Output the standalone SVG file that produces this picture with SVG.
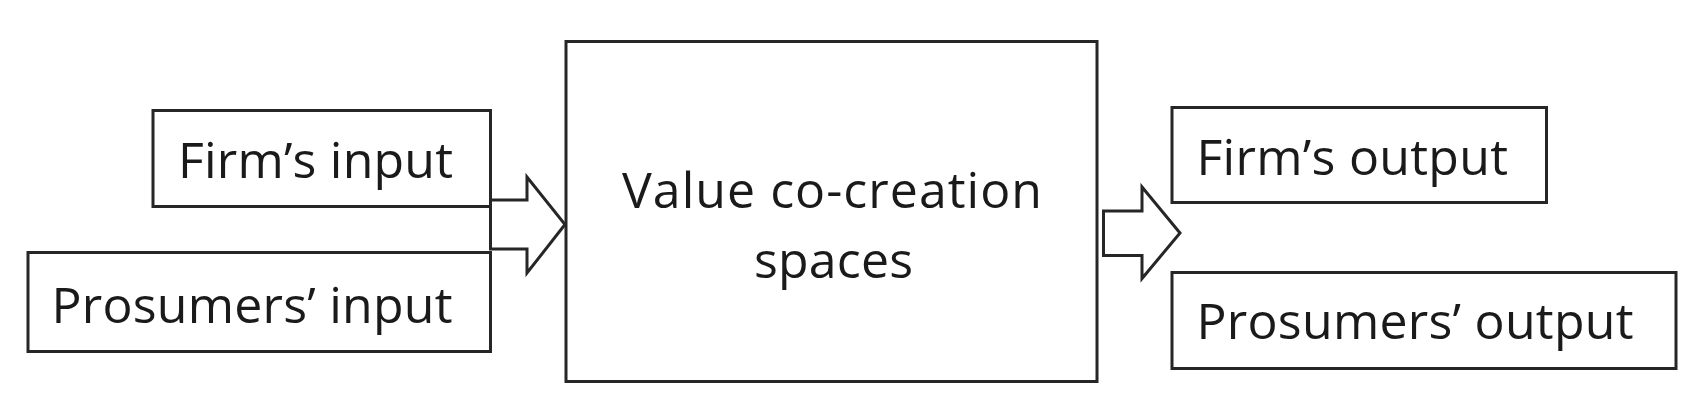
<svg xmlns="http://www.w3.org/2000/svg" width="1697" height="407" viewBox="0 0 1697 407">
<style>
.box{fill:#fff;stroke:#262626;stroke-width:3}
.arr{fill:#fff;stroke:#262626;stroke-width:3;stroke-linejoin:miter}
.t{font-family:"Open Sans","Noto Sans","Liberation Sans",sans-serif;font-size:50px;fill:#1a1a1a}
</style>
<rect width="1697" height="407" fill="#fff"/>
<g id="value-co-creation-spaces">
<rect class="box" x="566" y="41.5" width="531" height="340"/>
<text class="t" x="622" y="208" textLength="420" lengthAdjust="spacing">Value co-creation</text>
<text class="t" x="754" y="278" textLength="159" lengthAdjust="spacing">spaces</text>
</g>
<g id="firms-input">
<rect class="box" x="153" y="110.5" width="337.5" height="96"/>
<text class="t" x="178" y="178" textLength="275" lengthAdjust="spacing">Firm’s input</text>
</g>
<g id="prosumers-input">
<rect class="box" x="28" y="252.5" width="462.5" height="99"/>
<text class="t" x="51.5" y="323" textLength="401" lengthAdjust="spacing">Prosumers’ input</text>
</g>
<g id="firms-output">
<rect class="box" x="1172" y="107.5" width="374.5" height="95"/>
<text class="t" x="1196.5" y="175" textLength="311.5" lengthAdjust="spacing">Firm’s output</text>
</g>
<g id="prosumers-output">
<rect class="box" x="1172" y="272.5" width="504" height="96"/>
<text class="t" x="1196.5" y="338.5" textLength="437" lengthAdjust="spacing">Prosumers’ output</text>
</g>
<g id="connectors">
<path class="arr" d="M490.5,200 L527,200 L527,177 L565,224.5 L527,273 L527,249 L490.5,249 Z"/>
<path class="arr" d="M1103.5,211 L1142,211 L1142,187 L1180,233 L1142,278.5 L1142,255.5 L1103.5,255.5 Z"/>
</g>
</svg>
